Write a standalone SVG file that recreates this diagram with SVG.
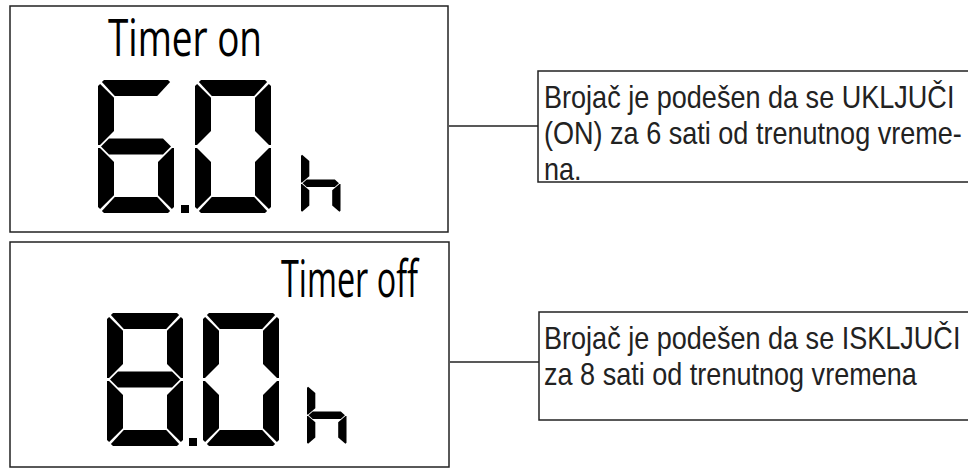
<svg xmlns="http://www.w3.org/2000/svg" xmlns:xlink="http://www.w3.org/1999/xlink" width="968" height="470" viewBox="0 0 968 470">
<style>
.frame{fill:#fff;stroke:#222;stroke-width:1.5}
.conn{stroke:#222;stroke-width:1.5;fill:none}
.seg{fill:#000}
.lcd{font-family:"Open Sans","Noto Sans","Liberation Sans",sans-serif;font-size:52px;font-weight:500;fill:#000}
.note{font-family:"Liberation Sans",Arial,sans-serif;font-size:31px;fill:#222}
</style>
<defs>
<path id="sA" class="seg" d="M6,0 H70 L72.1,2.1 L59.2,16 H16.8 L3.9,2.1 Z"/>
<path id="sF" class="seg" d="M0,6 L2.1,3.9 L16,17.8 V51 L2,65 H0 Z"/>
<path id="sG" class="seg" d="M3,66.5 L11,58.5 H65 L73,66.5 L65,74.5 H11 Z"/>
<use id="sB" xlink:href="#sF" transform="translate(76,0) scale(-1,1)"/>
<use id="sE" xlink:href="#sF" transform="translate(0,133) scale(1,-1)"/>
<use id="sC" xlink:href="#sF" transform="translate(76,133) scale(-1,-1)"/>
<use id="sD" xlink:href="#sA" transform="translate(0,133) scale(1,-1)"/>
<g id="d8"><use xlink:href="#sA"/><use xlink:href="#sB"/><use xlink:href="#sC"/><use xlink:href="#sD"/><use xlink:href="#sE"/><use xlink:href="#sF"/><use xlink:href="#sG"/></g>
<g id="d0"><use xlink:href="#sA"/><use xlink:href="#sB"/><use xlink:href="#sC"/><use xlink:href="#sD"/><use xlink:href="#sE"/><use xlink:href="#sF"/></g>
<g id="d6"><use xlink:href="#sA"/><use xlink:href="#sC"/><use xlink:href="#sD"/><use xlink:href="#sE"/><use xlink:href="#sF"/><use xlink:href="#sG"/></g>
<g id="dh"><use xlink:href="#sC"/><use xlink:href="#sE"/><use xlink:href="#sF"/><use xlink:href="#sG"/></g>
</defs>
<rect width="968" height="470" fill="#fff"/>

<g id="display-on">
<rect class="frame" x="10" y="6" width="438" height="226"/>
<text class="lcd" x="108" y="56" textLength="154" lengthAdjust="spacingAndGlyphs">Timer on</text>
<use xlink:href="#d6" transform="translate(98,80)"/>
<rect class="seg" x="181" y="205" width="8" height="8"/>
<use xlink:href="#d0" transform="translate(195,80)"/>
<use xlink:href="#dh" transform="translate(301,153) scale(0.52,0.455)"/>
</g>

<g id="display-off">
<rect class="frame" x="10" y="242" width="439" height="225"/>
<text class="lcd" x="281" y="297" textLength="137" lengthAdjust="spacingAndGlyphs">Timer off</text>
<use xlink:href="#d8" transform="translate(107,313)"/>
<rect class="seg" x="189" y="438" width="8" height="8"/>
<use xlink:href="#d0" transform="translate(203,313)"/>
<use xlink:href="#dh" transform="translate(307,385) scale(0.52,0.455)"/>
</g>

<g id="connectors">
<line class="conn" x1="449" y1="126" x2="538" y2="126"/>
<line class="conn" x1="450" y1="362" x2="539" y2="362"/>
</g>

<g id="note-on">
<rect class="frame" x="538" y="71" width="440" height="111"/>
<g transform="translate(544,0) scale(0.873,1)">
<text class="note" x="0" y="108">Brojač je podešen da se UKLJUČI</text>
<text class="note" x="0" y="144">(ON) za 6 sati od trenutnog vreme-</text>
<text class="note" x="0" y="180">na.</text>
</g>
</g>

<g id="note-off">
<rect class="frame" x="539" y="312" width="440" height="108"/>
<g transform="translate(544,0) scale(0.873,1)">
<text class="note" x="0" y="349">Brojač je podešen da se ISKLJUČI</text>
<text class="note" x="0" y="385">za 8 sati od trenutnog vremena</text>
</g>
</g>
</svg>
